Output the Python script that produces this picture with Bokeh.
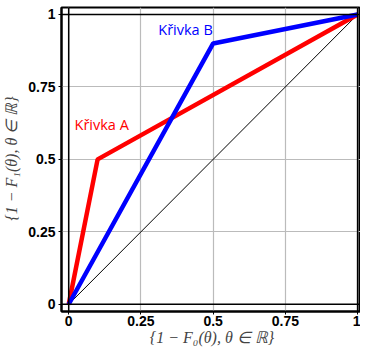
from bokeh.plotting import figure
from bokeh.models import Span, FixedTicker, Label
from bokeh.embed import file_html
from bokeh.resources import INLINE

# data
diag_x = [0, 1]
diag_y = [0, 1]
curve_a_x = [0, 0.1, 1]
curve_a_y = [0, 0.5, 1]
curve_b_x = [0, 0.5, 1]
curve_b_y = [0, 0.9, 1]
ticks = [0, 0.25, 0.5, 0.75, 1]
tick_labels = {0: "0", 0.25: "0.25", 0.5: "0.5", 0.75: "0.75", 1: "1"}
label_a = ("Křivka A", 0.02, 0.62)
label_b = ("Křivka B", 0.31, 0.947)

p = figure(width=360, height=348, x_range=(-0.025, 1.01), y_range=(-0.025, 1.024),
           output_backend="svg", toolbar_location=None,
           min_border_left=56, min_border_right=0, min_border_top=7, min_border_bottom=34)
p.background_fill_color = "white"
p.border_fill_color = "white"
p.outline_line_color = "black"
p.outline_line_width = 2

for ax in (p.xaxis[0], p.yaxis[0]):
    ax.ticker = FixedTicker(ticks=ticks)
    ax.major_label_overrides = tick_labels
    ax.major_label_text_font = "Liberation Sans"
    ax.major_label_text_font_style = "bold"
    ax.major_label_text_font_size = "14px"
    ax.major_label_text_color = "black"
    ax.axis_line_color = "black"
    ax.axis_line_width = 2
    ax.major_tick_line_color = "black"
    ax.major_tick_in = 0
    ax.major_tick_out = 3
    ax.minor_tick_line_color = None
    ax.axis_label_text_font = "Liberation Serif"
    ax.axis_label_text_font_style = "italic"
    ax.axis_label_text_font_size = "16px"
    ax.axis_label_text_color = "#444444"

p.xaxis.axis_label = "{1 − F₀(θ), θ ∈ ℝ}"
p.yaxis.axis_label = "{1 − F₁(θ), θ ∈ ℝ}"
p.xaxis.major_label_standoff = 1
p.yaxis.major_label_standoff = 3
p.xaxis.axis_label_standoff = 0
p.yaxis.axis_label_standoff = 5

p.grid.grid_line_color = "#bbbbbb"
p.grid.grid_line_width = 1.2

for loc in (0, 1):
    p.add_layout(Span(location=loc, dimension="width", line_color="black", line_width=1.5))
    p.add_layout(Span(location=loc, dimension="height", line_color="black", line_width=1.5))

p.line(diag_x, diag_y, line_color="black", line_width=1)
p.line(curve_a_x, curve_a_y, line_color="#ff0000", line_width=4.5)
p.line(curve_b_x, curve_b_y, line_color="#0000ff", line_width=4.5)

p.add_layout(Label(x=label_a[1], y=label_a[2], text=label_a[0], text_color="#ff0000",
                   text_font="Open Sans", text_font_size="14.5px", text_baseline="middle"))
p.add_layout(Label(x=label_b[1], y=label_b[2], text=label_b[0], text_color="#0000ff",
                   text_font="Open Sans", text_font_size="14.5px", text_baseline="middle"))

open("out.html", "w").write(file_html(p, INLINE))
